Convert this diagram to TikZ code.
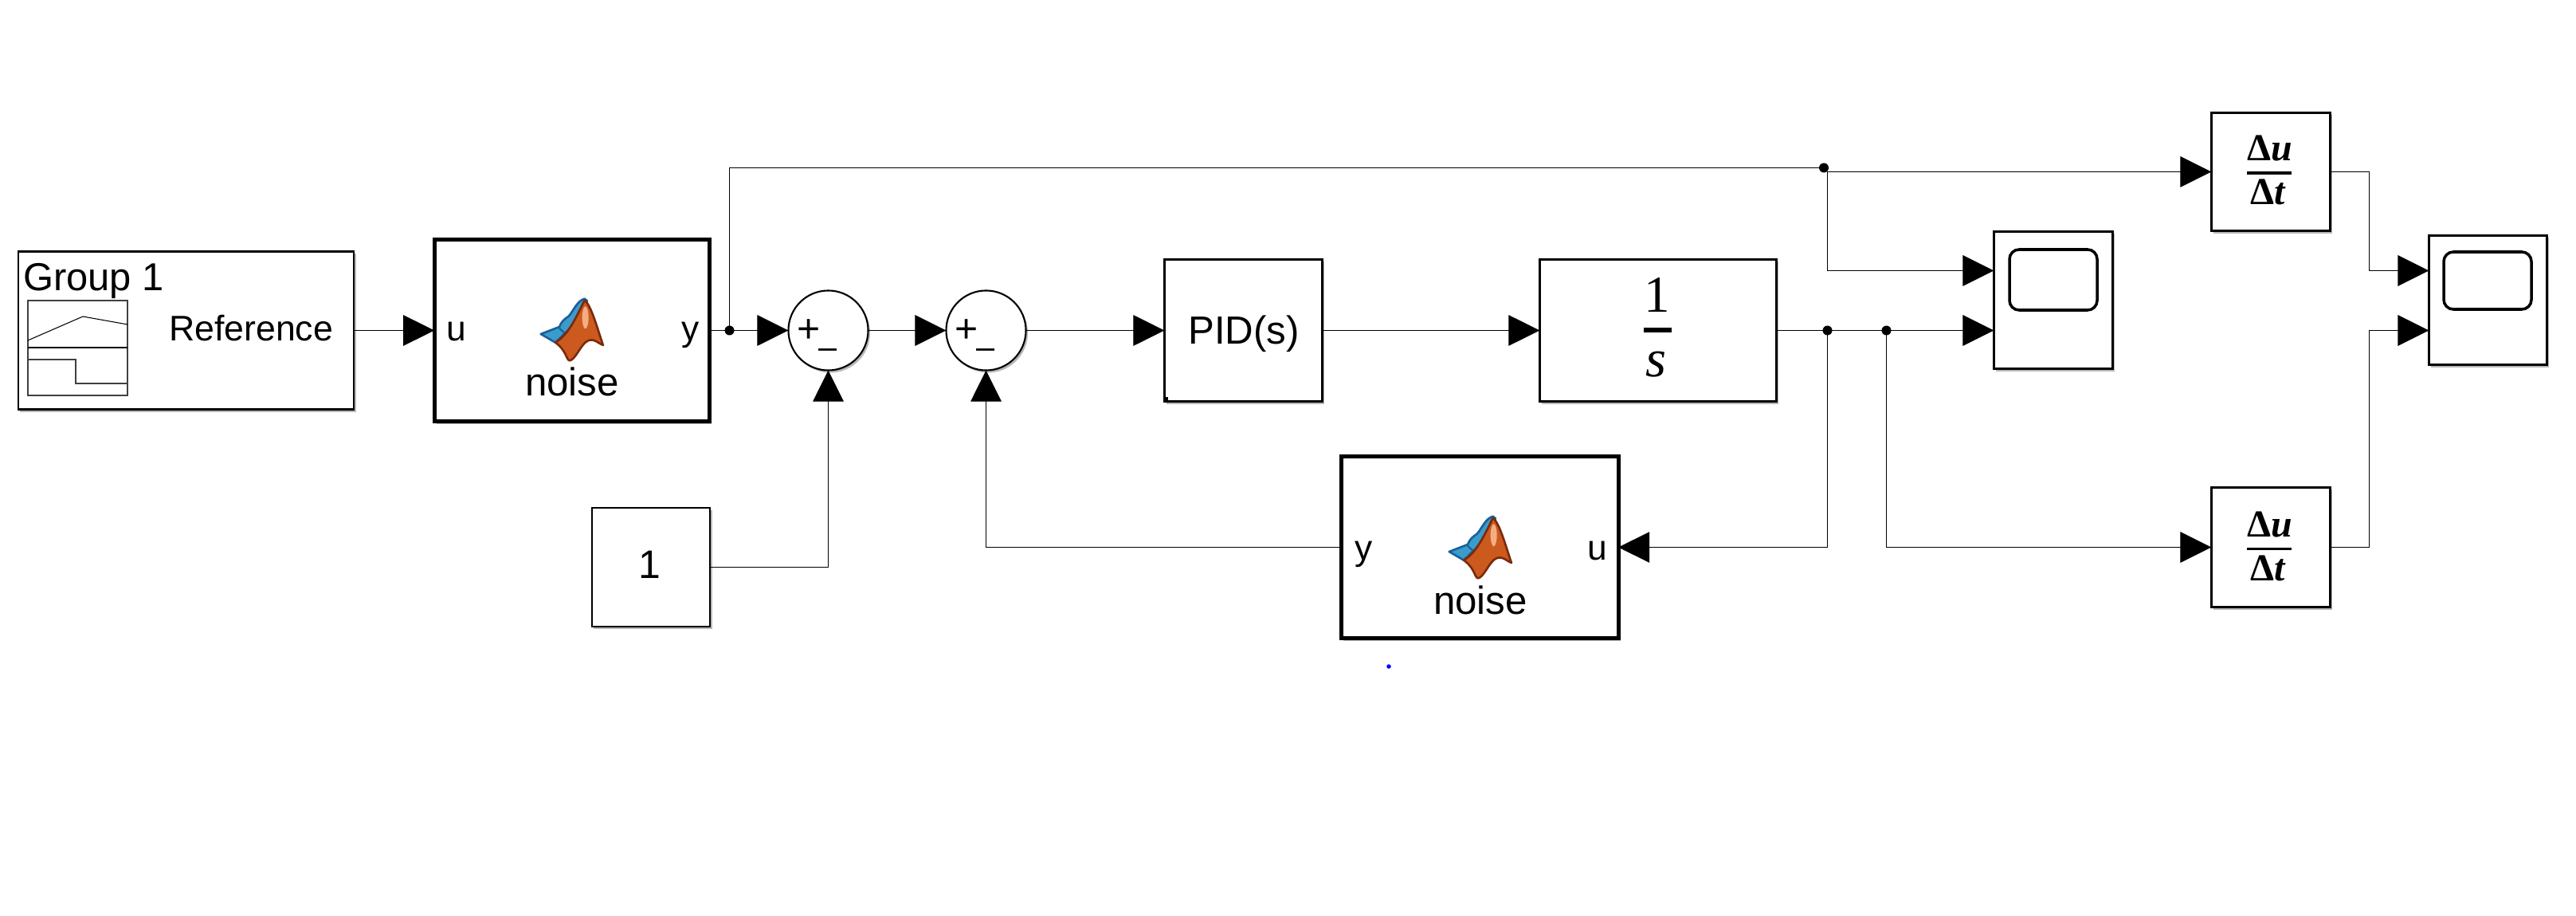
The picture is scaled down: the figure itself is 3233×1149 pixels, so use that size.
\documentclass[tikz,border=0pt]{standalone}
\usepackage{fontspec}
\setmainfont{Liberation Sans}
\newfontfamily\serifnum{Liberation Serif}
\usetikzlibrary{shadows,arrows.meta,calc}
\definecolor{logoorange}{HTML}{CC5A1E}
\definecolor{logodark}{HTML}{7A2A0C}
\definecolor{logoblue}{HTML}{3A9CCB}
\definecolor{logodarkblue}{HTML}{1C5F9A}
\definecolor{logolight}{HTML}{F5AD82}
\newcommand{\fs}[1]{\fontsize{#1}{#1}\selectfont}
\tikzset{
  x=0.01cm,y=-0.01cm,
  softshadow/.style={drop shadow={shadow xshift=0.025cm,shadow yshift=-0.03cm,opacity=0.28,fill=black}},
  block/.style={draw=black,line width=0.7pt,fill=white,softshadow,inner sep=0pt,outer sep=0pt},
  thick block/.style={block,line width=1.4pt},
  sum block/.style={block,circle,minimum size=1cm,line width=0.6pt},
  screen/.style={draw=black,line width=1pt,rounded corners=0.12cm,fill=white},
  wire/.style={line width=0.3pt,draw=black},
  arrowed/.style={wire,-{Triangle[length=0.39cm,width=0.385cm,fill=black]}},
  dotnode/.style={circle,fill=black,inner sep=0pt,outer sep=0pt,minimum size=0.12cm},
  label/.style={inner sep=0pt,outer sep=0pt,anchor=base,text=black},
  thin icon/.style={draw=black,line width=0.3pt},
  logo/.pic={
    \begin{scope}[x=0.00333cm,y=-0.00333cm,shift={(-590,-440)}]
      \fill[logoblue,draw=logodarkblue,line width=0.75pt,line join=round]
        (475,455) -- (545,428) .. controls (552,408) and (565,398) .. (580,388)
        .. controls (600,365) and (612,330) .. (640,322) -- (650,330)
        -- (600,420) -- (530,487) -- cycle;
      \draw[logodarkblue,line width=0.6pt] (545,433) -- (565,452);
      \fill[logoorange,draw=logodark,line width=0.75pt,line join=round]
        (530,487) .. controls (575,460) and (600,410) .. (640,328)
        .. controls (665,345) and (690,440) .. (710,497)
        .. controls (690,490) and (672,465) .. (645,485)
        .. controls (625,500) and (605,550) .. (585,555)
        .. controls (570,555) and (575,520) .. cycle;
      \fill[logolight] (643,393) ellipse [x radius=12,y radius=42];
    \end{scope}
  }
}
\begin{document}
\begin{tikzpicture}
\useasboundingbox (0,0) rectangle (3233,1149);
\fill[white] (0,0) rectangle (3233,1149);

% ---- blocks (positions are the centres) ----
\node[block,minimum width=4.21cm,minimum height=1.98cm] (ref) at (233.5,414.5) {};
\node[thick block,minimum width=3.455cm,minimum height=2.28cm] (noiseA) at (718,414.5) {};
\node[sum block] (sumA) at (1039.5,414.5) {};
\node[sum block] (sumB) at (1237.5,414.5) {};
\node[block,minimum width=1.98cm,minimum height=1.78cm] (pid) at (1560.5,414.5) {};
\node[block,minimum width=2.97cm,minimum height=1.78cm] (integ) at (2081,414.5) {};
\node[block,minimum width=1.48cm,minimum height=1.49cm] (const) at (817,711.5) {};
\node[thick block,minimum width=3.47cm,minimum height=2.28cm] (noiseB) at (1857.5,686.5) {};
\node[block,minimum width=1.49cm,minimum height=1.72cm] (scopeA) at (2577,376.5) {};
\node[block,minimum width=1.48cm,minimum height=1.62cm] (scopeB) at (3122.5,376.5) {};
\node[block,minimum width=1.49cm,minimum height=1.48cm] (diffA) at (2850,215.5) {};
\node[block,minimum width=1.49cm,minimum height=1.5cm] (diffB) at (2850,686.5) {};

% ---- connection points ----
\coordinate (jOut) at (915.5,414.5);
\coordinate (jTop) at (2289,210.5);
\coordinate (branch) at (2293.5,215.5);
\coordinate (jMidA) at (2293.5,414.5);
\coordinate (jMidB) at (2367.5,414.5);
\coordinate (cornerTL) at (915.5,210.5);

% ---- wires ----
\draw[arrowed] (ref.east) -- (noiseA.west);
\draw[arrowed] (noiseA.east) -- (sumA.west);
\draw[arrowed] (sumA.east) -- (sumB.west);
\draw[arrowed] (sumB.east) -- (pid.west);
\draw[arrowed] (pid.east) -- (integ.west);
\draw[arrowed] (integ.east) -- (integ.east -| scopeA.west);
\draw[arrowed] (const.east) -| (sumA.south);
\draw[arrowed] (noiseB.west) -| (sumB.south);
\draw[wire] (jOut) -- (cornerTL) -- (jTop);
\draw[arrowed] (branch) -- (diffA.west);
\draw[arrowed] (branch) |- (scopeA.west |- 0,339.5);
\draw[arrowed] (jMidA) |- (noiseB.east);
\draw[arrowed] (jMidB) |- (diffB.west);
\draw[arrowed] (diffA.east) -- (2973.5,215.5) |- (scopeB.west |- 0,339.5);
\draw[arrowed] (diffB.east) -- (2973.5,686.5) |- (scopeB.west |- 0,414.5);

\node[dotnode] (dOut) at (jOut) {};
\node[dotnode] (dTop) at (jTop) {};
\node[dotnode] (dMidA) at (jMidA) {};
\node[dotnode] (dMidB) at (jMidB) {};
\node[circle,fill=blue,inner sep=0pt,minimum size=0.055cm] (bluedot) at (1743,836) {};

% ---- Group 1 block contents ----
\node[label,anchor=base west] (grp) at (29,365) {\fs{13.9pt}Group 1};
\node[label,anchor=base west] (reftxt) at (212,428) {\fs{12.7pt}Reference};
\draw[line width=0.3pt,draw=black!75] (35,377) rectangle (160,496);
\draw[thin icon] (35,436) -- (160,436);
\draw[thin icon] (35,427) -- (104,397) -- (160,407);
\draw[thin icon,draw=black!75] (35,451) -- (95,451) -- (95,481) -- (160,481);

% ---- noise blocks ----
\node[label] (uA) at (573,428) {\fs{12.6pt}u};
\node[label] (yA) at (867,428) {\fs{12.6pt}y};
\node[label] (nA) at (718,497) {\fs{14pt}noise};
\pic at (717,414) {logo};
\node[label] (yB) at (1712,702) {\fs{12.6pt}y};
\node[label] (uB) at (2005,702) {\fs{12.6pt}u};
\node[label] (nB) at (1858,770) {\fs{14pt}noise};
\pic at (1857,687) {logo};

% ---- summers ----
\node[label] (pA) at (1015,430) {\fs{14.2pt}+};
\node[label] (mA) at (1039.5,450) {\fs{11.8pt}–};
\node[label] (pB) at (1213.5,430) {\fs{14.2pt}+};
\node[label] (mB) at (1237.5,450) {\fs{11.8pt}–};

% ---- text blocks ----
\node[label] (pidtxt) at (1561,432) {\fs{14pt}PID(s)};
\fill (1460,498) rectangle (1466,503);
\node[label] (ctxt) at (815,725) {\fs{14.2pt}1};
\node[label] (one) at (2080,392) {\serifnum\fs{18.5pt}1};
\node[label] (ess) at (2078,472) {\serifnum\itshape\fs{19pt}s};
\fill (2063,411) rectangle (2098,417);

% ---- difference blocks ----
\foreach \cy/\nm in {215.5/A,686.5/B}{
  \node[label] (du\nm) at (2849,\cy-13.5) {\serifnum\bfseries\fs{13.6pt}Δ\textit{u}};
  \node[label] (dt\nm) at (2847,\cy+41.5) {\serifnum\bfseries\fs{13.6pt}Δ\textit{t}};
  \fill (2820,\cy) rectangle (2876,\cy+3.5);
}

% ---- scope screens ----
\draw[screen] (2522,313) rectangle (2632,389);
\draw[screen] (3067,316) rectangle (3177,388);
\end{tikzpicture}
\end{document}
